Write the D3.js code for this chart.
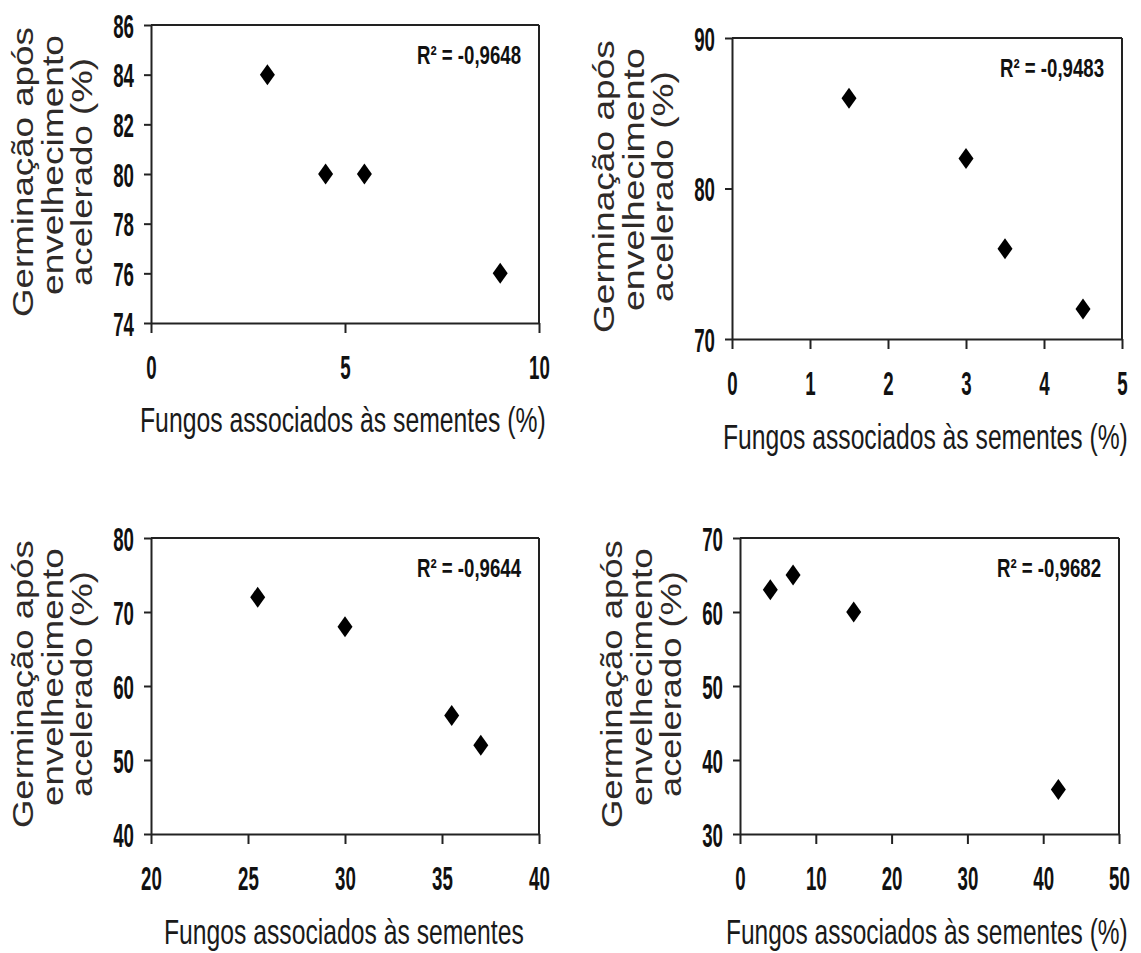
<!DOCTYPE html>
<html lang="pt">
<head>
<meta charset="UTF-8">
<title>Germinação x Fungos</title>
<script src="https://d3js.org/d3.v7.min.js"></script>
<style>
    body { margin: 0; background: #fff; }
    svg { display: block; }
    .tick line, .domain, .frame { stroke: #222; stroke-width: 2; }
    .tick text { font-family: "Liberation Sans", Arial, sans-serif; font-weight: bold; font-size: 34px; fill: #111; }
    .r2 { font-family: "Liberation Sans", Arial, sans-serif; font-weight: bold; font-size: 26px; fill: #111; }
    .xtitle { font-family: "Liberation Sans", Arial, sans-serif; font-size: 36px; fill: #1a1a1a; }
    .ytitle { font-family: "Liberation Sans", Arial, sans-serif; font-size: 29px; fill: #2e2a28; }
</style>
</head>
<body>
<svg width="1141" height="953"></svg>
<script>
    // data
    const p1Fungos = [3, 4.5, 5.5, 9];
    const p1Germ   = [84, 80, 80, 76];
    const p2Fungos = [1.5, 3, 3.5, 4.5];
    const p2Germ   = [86, 82, 76, 72];
    const p3Fungos = [25.5, 30, 35.5, 37];
    const p3Germ   = [72, 68, 56, 52];
    const p4Fungos = [4, 7, 15, 42];
    const p4Germ   = [63, 65, 60, 36];

    const p1XTicks = [0, 5, 10];
    const p1YTicks = [74, 76, 78, 80, 82, 84, 86];
    const p2XTicks = [0, 1, 2, 3, 4, 5];
    const p2YTicks = [70, 80, 90];
    const p3XTicks = [20, 25, 30, 35, 40];
    const p3YTicks = [40, 50, 60, 70, 80];
    const p4XTicks = [0, 10, 20, 30, 40, 50];
    const p4YTicks = [30, 40, 50, 60, 70];

    const r2Labels = ["R² = -0,9648", "R² = -0,9483", "R² = -0,9644", "R² = -0,9682"];
    const xTitles = ["Fungos associados às sementes (%)", "Fungos associados às sementes (%)",
                     "Fungos associados às sementes", "Fungos associados às sementes (%)"];
    const yTitleLines = ["Germinação após", "envelhecimento", "acelerado (%)"];

    const svg = d3.select("svg");
    const sx = 0.55; // condensed look of the tick numbers

    // plot frames (pixels)
    const frames = [
        {l: 151, r: 539, t: 25, b: 323, xt: [140, 546, 432]},
        {l: 732, r: 1122, t: 38, b: 339, xt: [723, 1128, 449]},
        {l: 151, r: 539, t: 538, b: 834, xt: [164, 524, 944]},
        {l: 740, r: 1119, t: 538, b: 834, xt: [726, 1128, 944]}
    ];

    const panels = [
        {xs: p1Fungos, ys: p1Germ, xt: p1XTicks, yt: p1YTicks},
        {xs: p2Fungos, ys: p2Germ, xt: p2XTicks, yt: p2YTicks},
        {xs: p3Fungos, ys: p3Germ, xt: p3XTicks, yt: p3YTicks},
        {xs: p4Fungos, ys: p4Germ, xt: p4XTicks, yt: p4YTicks}
    ];

    function diamond(cx, cy) {
        const w = 7.5, h = 10.5;
        return `M${cx},${cy - h}L${cx + w},${cy}L${cx},${cy + h}L${cx - w},${cy}Z`;
    }

    // squeeze a text horizontally (in its own frame) to a wanted length
    function fitText(sel, x, y, len, rot) {
        const nat = sel.node().getComputedTextLength();
        const k = len / nat;
        sel.attr("transform", `translate(${x},${y})` + (rot ? ` rotate(${rot})` : "") + ` scale(${k},1)`);
    }

    panels.forEach(function (p, i) {
        const f = frames[i];
        const x = d3.scaleLinear().domain(d3.extent(p.xt)).range([f.l, f.r]);
        const y = d3.scaleLinear().domain(d3.extent(p.yt)).range([f.b, f.t]);
        const g = svg.append("g");

        // box top + right
        g.append("line").attr("class", "frame")
            .attr("x1", f.l).attr("x2", f.r).attr("y1", f.t).attr("y2", f.t);
        g.append("line").attr("class", "frame")
            .attr("x1", f.r).attr("x2", f.r).attr("y1", f.t).attr("y2", f.b);

        const gx = g.append("g").attr("transform", `translate(0,${f.b})`)
            .call(d3.axisBottom(x).tickValues(p.xt).tickSize(10).tickSizeOuter(0).tickFormat(d3.format("d")));
        gx.selectAll("text").attr("y", 32).attr("dy", "0.71em")
            .attr("transform", `scale(${sx},1)`);

        const gy = g.append("g").attr("transform", `translate(${f.l},0)`)
            .call(d3.axisLeft(y).tickValues(p.yt).tickSize(7).tickSizeOuter(0).tickFormat(d3.format("d")));
        gy.selectAll("text").attr("x", -17 / sx).attr("dy", "0.36em")
            .attr("transform", `scale(${sx},1)`);
        g.selectAll(".domain").attr("fill", "none");

        // markers
        g.selectAll("path.pt")
            .data(p.xs.map((v, k) => [v, p.ys[k]]))
            .join("path")
            .attr("class", "pt")
            .attr("d", d => diamond(x(d[0]), y(d[1])))
            .attr("fill", "#000");

        // R² label
        const r2 = g.append("text").attr("class", "r2").text(r2Labels[i]);
        fitText(r2, f.r - 122, f.t + 39, 104);

        // x title
        const xt = g.append("text").attr("class", "xtitle").text(xTitles[i]);
        fitText(xt, f.xt[0], f.xt[2], f.xt[1] - f.xt[0]);

        // y title, three rotated lines
        const spans = [[f.t + 2, f.b - 6], [f.t + 10, f.b - 28], [f.t + 33, f.b - 37]];
        const offs = [-118, -88, -59];
        yTitleLines.forEach(function (line, k) {
            const t = g.append("text").attr("class", "ytitle").text(line);
            fitText(t, f.l + offs[k], spans[k][1], spans[k][1] - spans[k][0], -90);
        });
    });
</script>
</body>
</html>
